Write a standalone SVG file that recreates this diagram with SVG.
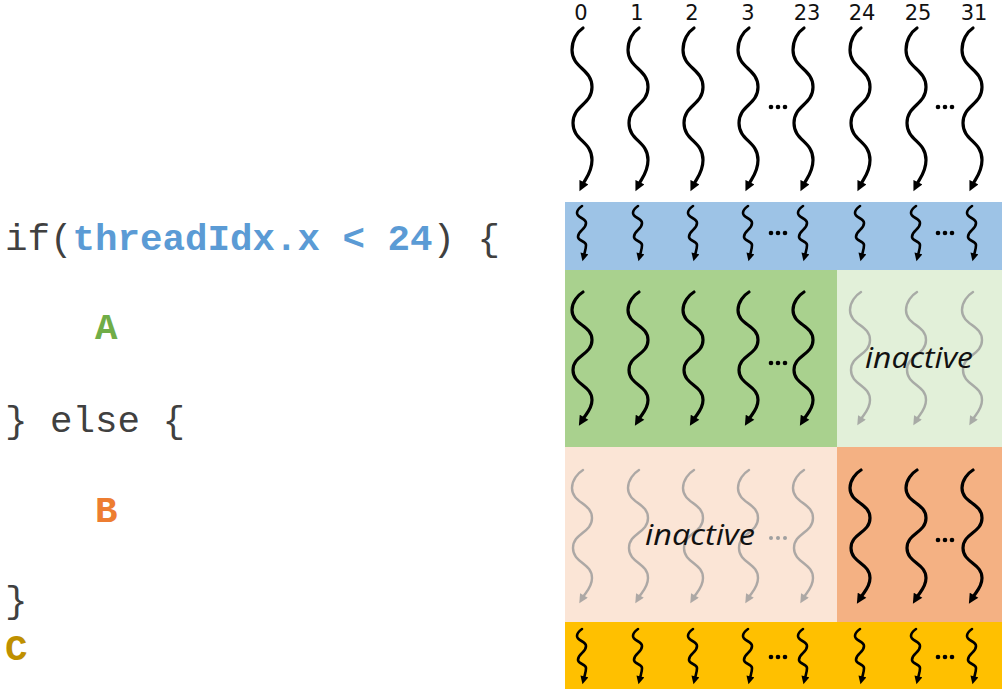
<svg xmlns="http://www.w3.org/2000/svg" xmlns:xlink="http://www.w3.org/1999/xlink" width="1005" height="694" viewBox="0 0 1005 694">
<style>
.code{font-family:"Liberation Mono","Courier New",monospace;font-size:37.5px;fill:#404040;white-space:pre}
.kw{font-weight:bold}
.cb{fill:#5B9BD5}
.ca{fill:#70AD47}
.cB{fill:#ED7D31}
.cC{fill:#BF9000}
.num{font-family:"DejaVu Sans",Verdana,sans-serif;font-size:21px;fill:#111;text-anchor:middle}
.ina{font-family:"Open Sans","Noto Sans",sans-serif;font-style:italic;font-size:29px;fill:#111}
.blk{fill:none;stroke:#000;stroke-linecap:round}
.gry{fill:none;stroke:#9a9a9a;stroke-linecap:round;opacity:0.8}
.dot{fill:#000}
.gdot{fill:#a0a0a0}
</style>
<defs>
<marker id="ab" viewBox="0 0 10 10" refX="2" refY="5" markerWidth="11" markerHeight="10" markerUnits="userSpaceOnUse" orient="auto"><path d="M0,0 L10,5 L0,10 z" fill="#000"/></marker>
<marker id="ag" viewBox="0 0 10 10" refX="2" refY="5" markerWidth="10" markerHeight="9" markerUnits="userSpaceOnUse" orient="auto"><path d="M0,0 L10,5 L0,10 z" fill="#9a9a9a"/></marker>
<marker id="as" viewBox="0 0 10 10" refX="2" refY="5" markerWidth="9" markerHeight="8" markerUnits="userSpaceOnUse" orient="auto"><path d="M0,0 L10,5 L0,10 z" fill="#000"/></marker>
<path id="tall" class="blk" stroke-width="3.2" marker-end="url(#ab)" d="M1,0 C-5,4 -10,12 -10,22 C-10,40 10,41 10,59 C10,77 -9,77 -9,95 C-9,113 10,113 10,132 C10,144 4,150 1,156"/>
<path id="medb" class="blk" stroke-width="3.2" marker-end="url(#ab)" d="M1,0 C-4,3 -10,10 -10,18 C-10,33 10,33 10,48 C10,63 -9,63 -9,78 C-9,93 10,93 10,108 C10,117 4,122 1,127"/>
<path id="medg" class="gry" stroke-width="2.4" marker-end="url(#ag)" d="M1,0 C-4,3 -10,10 -10,18 C-10,33 10,33 10,48 C10,63 -9,63 -9,78 C-9,93 10,93 10,108 C10,117 4,122 1,127"/>
<path id="small" class="blk" stroke-width="2.6" marker-end="url(#as)" d="M0,0 C-3,2 -5,4 -5,7 C-5,12 4,12 4,17 C4,24 -4,24 -4,31 C-4,35 4,35 4,39 C4,43 3,45 2,49"/>
</defs>

<g id="code">
<text class="code" x="5" y="250">if(<tspan class="kw cb">threadIdx.x &lt; 24</tspan>) {</text>
<text class="code kw ca" x="95" y="339">A</text>
<text class="code" x="5" y="432">} else {</text>
<text class="code kw cB" x="95" y="522">B</text>
<text class="code" x="5" y="612">}</text>
<text class="code kw cC" x="5" y="660">C</text>
</g>

<g id="thread-labels">
<text class="num" x="581" y="20">0</text>
<text class="num" x="637" y="20">1</text>
<text class="num" x="692" y="20">2</text>
<text class="num" x="748" y="20">3</text>
<text class="num" x="807" y="20">23</text>
<text class="num" x="862" y="20">24</text>
<text class="num" x="918" y="20">25</text>
<text class="num" x="974" y="20">31</text>
</g>

<g id="threads-top">
<use xlink:href="#tall" x="582" y="28"/>
<use xlink:href="#tall" x="638" y="28"/>
<use xlink:href="#tall" x="693" y="28"/>
<use xlink:href="#tall" x="748" y="28"/>
<use xlink:href="#tall" x="803" y="28"/>
<use xlink:href="#tall" x="860" y="28"/>
<use xlink:href="#tall" x="916" y="28"/>
<use xlink:href="#tall" x="972" y="28"/>
<circle class="dot" cx="771" cy="107" r="2.3"/><circle class="dot" cx="778" cy="107" r="2.3"/><circle class="dot" cx="785" cy="107" r="2.3"/>
<circle class="dot" cx="938" cy="107" r="2.3"/><circle class="dot" cx="945" cy="107" r="2.3"/><circle class="dot" cx="952" cy="107" r="2.3"/>
</g>

<g id="band-if">
<rect x="565" y="202" width="437" height="68" fill="#9DC3E6"/>
<use xlink:href="#small" x="582" y="206"/>
<use xlink:href="#small" x="638" y="206"/>
<use xlink:href="#small" x="693" y="206"/>
<use xlink:href="#small" x="748" y="206"/>
<use xlink:href="#small" x="803" y="206"/>
<use xlink:href="#small" x="860" y="206"/>
<use xlink:href="#small" x="916" y="206"/>
<use xlink:href="#small" x="972" y="206"/>
<circle class="dot" cx="771" cy="233" r="2.3"/><circle class="dot" cx="778" cy="233" r="2.3"/><circle class="dot" cx="785" cy="233" r="2.3"/>
<circle class="dot" cx="938" cy="233" r="2.3"/><circle class="dot" cx="945" cy="233" r="2.3"/><circle class="dot" cx="952" cy="233" r="2.3"/>
</g>

<g id="block-A-active">
<rect x="565" y="270" width="272" height="177" fill="#A9D18E"/>
<use xlink:href="#medb" x="582" y="292"/>
<use xlink:href="#medb" x="638" y="292"/>
<use xlink:href="#medb" x="693" y="292"/>
<use xlink:href="#medb" x="748" y="292"/>
<use xlink:href="#medb" x="803" y="292"/>
<circle class="dot" cx="771" cy="363" r="2.3"/><circle class="dot" cx="778" cy="363" r="2.3"/><circle class="dot" cx="785" cy="363" r="2.3"/>
</g>

<g id="block-A-inactive">
<rect x="837" y="270" width="165" height="177" fill="#E2F0D9"/>
<use xlink:href="#medg" x="860" y="292"/>
<use xlink:href="#medg" x="916" y="292"/>
<use xlink:href="#medg" x="972" y="292"/>
<text class="ina" x="865" y="368" textLength="108" lengthAdjust="spacingAndGlyphs">inactive</text>
</g>

<g id="block-B-inactive">
<rect x="565" y="447" width="272" height="175" fill="#FBE5D6"/>
<use xlink:href="#medg" x="582" y="470"/>
<use xlink:href="#medg" x="638" y="470"/>
<use xlink:href="#medg" x="693" y="470"/>
<use xlink:href="#medg" x="748" y="470"/>
<use xlink:href="#medg" x="803" y="470"/>
<circle class="gdot" cx="771" cy="538" r="2"/><circle class="gdot" cx="778" cy="538" r="2"/><circle class="gdot" cx="785" cy="538" r="2"/>
<text class="ina" x="645" y="545" textLength="110" lengthAdjust="spacingAndGlyphs">inactive</text>
</g>

<g id="block-B-active">
<rect x="837" y="447" width="165" height="175" fill="#F4B183"/>
<use xlink:href="#medb" x="860" y="470"/>
<use xlink:href="#medb" x="916" y="470"/>
<use xlink:href="#medb" x="972" y="470"/>
<circle class="dot" cx="938" cy="540" r="2.3"/><circle class="dot" cx="945" cy="540" r="2.3"/><circle class="dot" cx="952" cy="540" r="2.3"/>
</g>

<g id="band-C">
<rect x="565" y="622" width="437" height="67" fill="#FFC000"/>
<use xlink:href="#small" x="582" y="629"/>
<use xlink:href="#small" x="638" y="629"/>
<use xlink:href="#small" x="693" y="629"/>
<use xlink:href="#small" x="748" y="629"/>
<use xlink:href="#small" x="803" y="629"/>
<use xlink:href="#small" x="860" y="629"/>
<use xlink:href="#small" x="916" y="629"/>
<use xlink:href="#small" x="972" y="629"/>
<circle class="dot" cx="771" cy="657" r="2.3"/><circle class="dot" cx="778" cy="657" r="2.3"/><circle class="dot" cx="785" cy="657" r="2.3"/>
<circle class="dot" cx="938" cy="657" r="2.3"/><circle class="dot" cx="945" cy="657" r="2.3"/><circle class="dot" cx="952" cy="657" r="2.3"/>
</g>
</svg>
